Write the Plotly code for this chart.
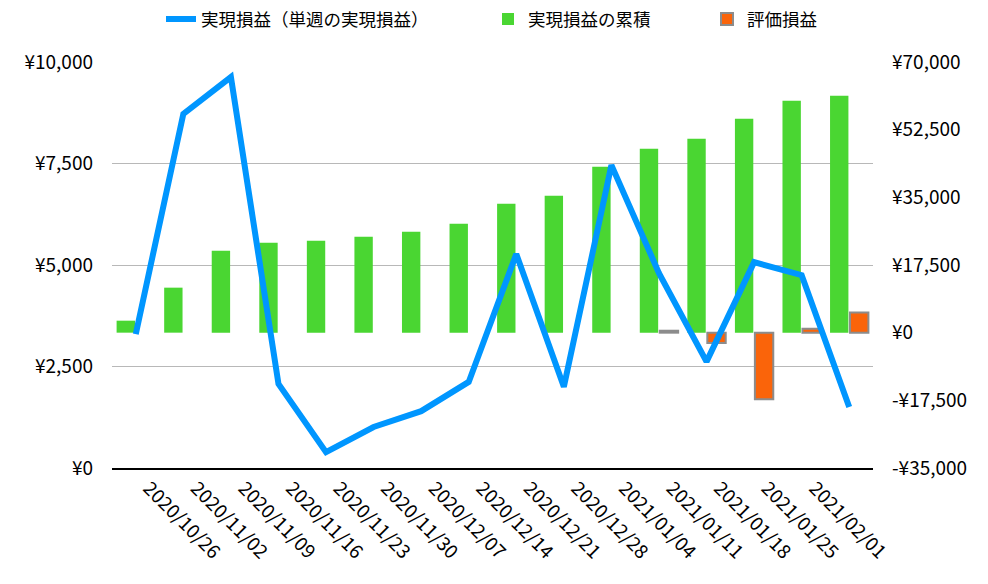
import plotly.graph_objects as go

dates = ["2020/10/26", "2020/11/02", "2020/11/09", "2020/11/16", "2020/11/23",
         "2020/11/30", "2020/12/07", "2020/12/14", "2020/12/21", "2020/12/28",
         "2021/01/04", "2021/01/11", "2021/01/18", "2021/01/25", "2021/02/01",
         "2021/02/08"]
weekly = [3300, 8720, 9630, 2070, 390, 1010, 1400, 2120, 5270, 2000,
          7460, 4800, 2620, 5070, 4750, 1500]
cumulative = [3100, 11640, 21200, 23270, 23790, 24820, 26120, 28190, 33360, 35430,
              42930, 47580, 50170, 55340, 60000, 61290]
valuation = [None, None, None, None, None, None, None, None, None, None,
             None, 500, -2700, -17200, 1000, 5200]
left_ticks = [0, 2500, 5000, 7500, 10000]
left_text = ["¥0", "¥2,500", "¥5,000", "¥7,500", "¥10,000"]
right_ticks = [-35000, -17500, 0, 17500, 35000, 52500, 70000]
right_text = ["-¥35,000", "-¥17,500", "¥0", "¥17,500", "¥35,000", "¥52,500", "¥70,000"]
labelled = dates[:15]

FONT = "Noto Sans CJK JP"

fig = go.Figure()
fig.add_trace(go.Bar(x=dates, y=cumulative, name="実現損益の累積", yaxis="y",
                     legend="legend2",
                     marker=dict(color="#4AD632", line=dict(width=0))))
fig.add_trace(go.Bar(x=dates, y=valuation, name="評価損益", yaxis="y",
                     legend="legend3",
                     marker=dict(color="#FA640A", line=dict(color="#8C8C8C", width=2))))
fig.add_trace(go.Scatter(x=dates, y=weekly, name="実現損益（単週の実現損益）", yaxis="y2",
                         legend="legend",
                         mode="lines", line=dict(color="#0096FF", width=6)))

leg = dict(orientation="h", xanchor="left", y=1.15, yanchor="top",
           font=dict(size=17.5), itemwidth=30, bgcolor="rgba(0,0,0,0)")

fig.update_layout(
    width=988, height=584,
    margin=dict(l=112, r=115, t=62, b=116, autoexpand=False),
    paper_bgcolor="white", plot_bgcolor="white",
    font=dict(family=FONT, size=19, color="black"),
    barmode="group", bargap=0.16, bargroupgap=0.08,
    showlegend=True,
    legend=dict(leg, x=(161 - 112) / 761),
    legend2=dict(leg, x=(488 - 112) / 761),
    legend3=dict(leg, x=(707 - 112) / 761),
    xaxis=dict(type="category", range=[-0.5, 15.5], tickmode="array",
               tickvals=labelled, ticktext=labelled, tickangle=45,
               showline=True, linecolor="black", linewidth=1.5, ticks="",
               showgrid=False, tickfont=dict(size=19), ticklabelshift=13),
    yaxis=dict(side="right", range=[-35000, 70000], tickmode="array",
               tickvals=right_ticks, ticktext=right_text, showgrid=False,
               zeroline=False, ticks="", ticklabelstandoff=18),
    yaxis2=dict(side="left", overlaying="y", range=[0, 10000], tickmode="array",
                tickvals=left_ticks, ticktext=left_text, showgrid=True,
                gridcolor="#B8B8B8", gridwidth=1, zeroline=False, ticks="",
                ticklabelstandoff=18),
)

fig.write_html("out.html")
